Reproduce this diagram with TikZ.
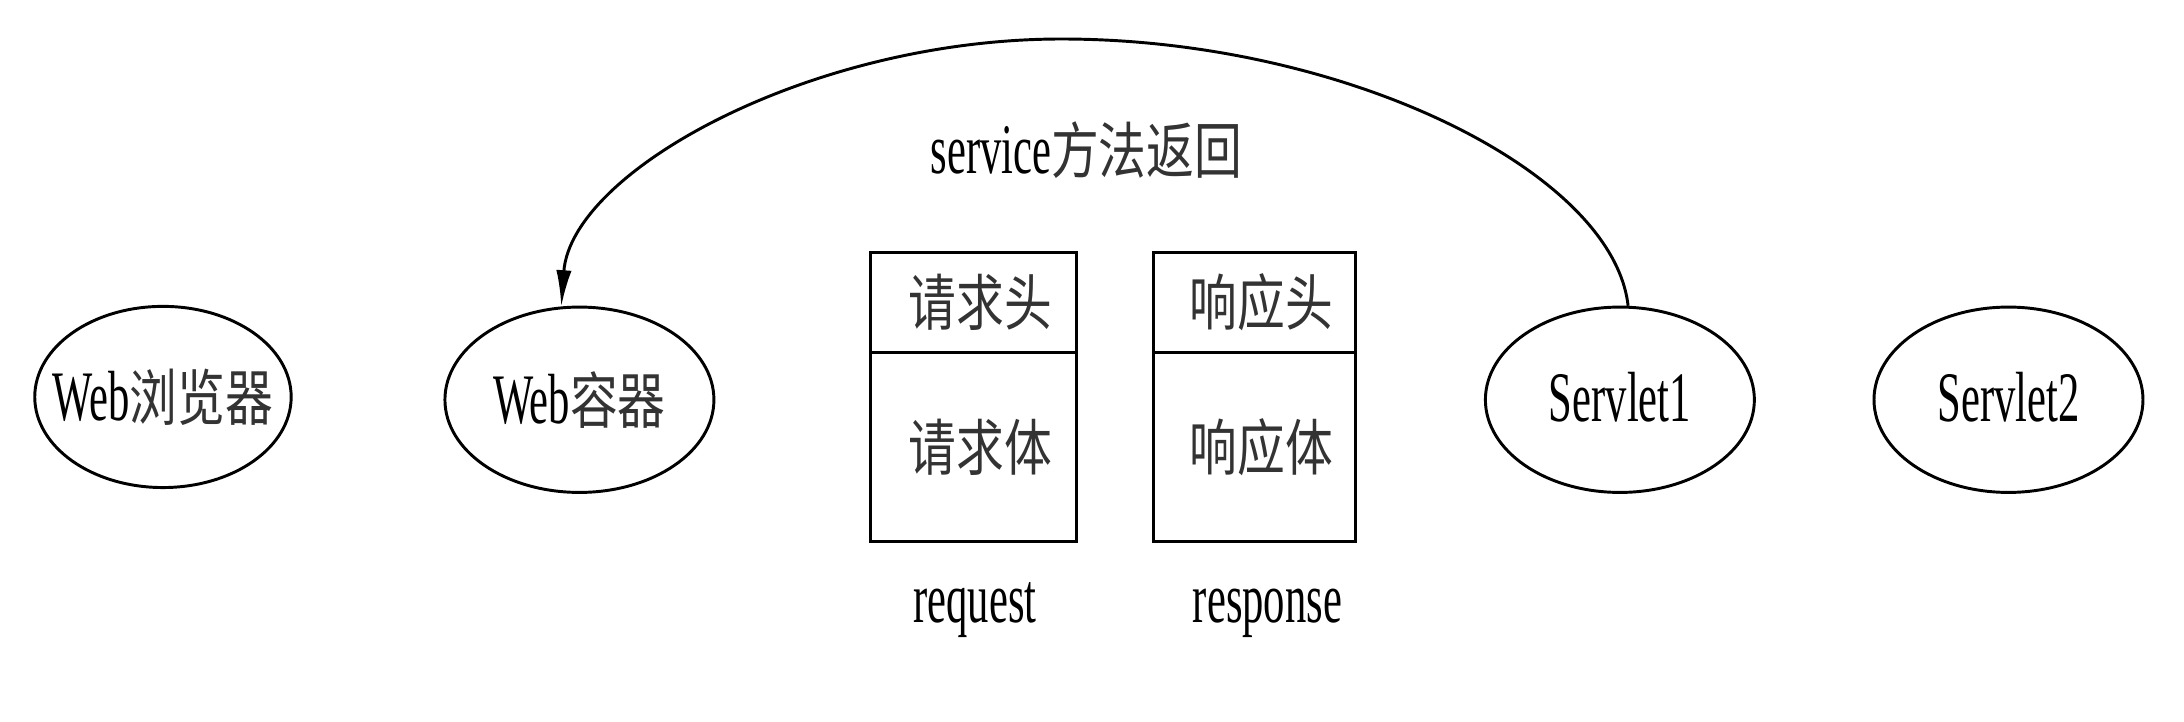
\documentclass[tikz,border=0pt]{standalone}
\usepackage{fontspec}
\setmainfont[FakeStretch=0.6]{Liberation Serif}
\newfontfamily\cjkfam[FakeStretch=0.78]{Noto Sans CJK SC}
\usetikzlibrary{shapes.geometric,arrows.meta}
\newcommand\latf{\fontsize{14.5}{14.5}\selectfont}
\newcommand\cjkf{\cjkfam\fontsize{12.5}{12.5}\selectfont\color{black!80}}
\begin{document}
\begin{tikzpicture}[x=0.01cm,y=-0.01cm,
  ell/.style={draw, ellipse, minimum width=1.93cm, minimum height=1.33cm, inner sep=0pt, line width=0.6pt},
  boxpart/.style={draw, rectangle, inner sep=0pt, line width=0.6pt},
  lbl/.style={inner sep=0pt},
  conn/.style={line width=0.6pt, -{Latex[length=2.6mm,width=1.1mm]}}]
\useasboundingbox (0,0) rectangle (1568,518);
\node[ell, minimum width=1.84cm, minimum height=1.30cm] (wb) at (117,285) {\makebox[0pt]{\latf Web\cjkf 浏览器}};
\node[ell] (wc) at (416,287) {\makebox[0pt]{\latf Web\cjkf 容器}};
\node[ell] (s1) at (1163,287) {\makebox[0pt]{\raisebox{1pt}{\latf Servlet1}}};
\node[ell] (s2) at (1442,287) {\makebox[0pt]{\raisebox{1pt}{\latf Servlet2}}};
\node[boxpart, minimum width=1.48cm, minimum height=0.72cm] (reqh) at (699,217) {\hspace*{0.1cm}\cjkf 请求头};
\node[boxpart, minimum width=1.48cm, minimum height=1.36cm] (reqb) at (699,321) {\hspace*{0.1cm}\cjkf 请求体};
\node[boxpart, minimum width=1.45cm, minimum height=0.72cm] (resh) at (900.5,217) {\hspace*{0.1cm}\cjkf 响应头};
\node[boxpart, minimum width=1.45cm, minimum height=1.36cm] (resb) at (900.5,321) {\hspace*{0.1cm}\cjkf 响应体};
\node[lbl] (reql) at (700,438) {\latf request};
\node[lbl] (resl) at (910,440) {\latf response};
\node[lbl] (svc) at (780,108) {\latf service\cjkf 方法返回};
\coordinate (top) at (762,28);
\draw[conn] (s1.85) .. controls (1158,123) and (965,28) .. (top)
  .. controls (582,28) and (410,123) .. (wc.101);
\end{tikzpicture}
\end{document}
